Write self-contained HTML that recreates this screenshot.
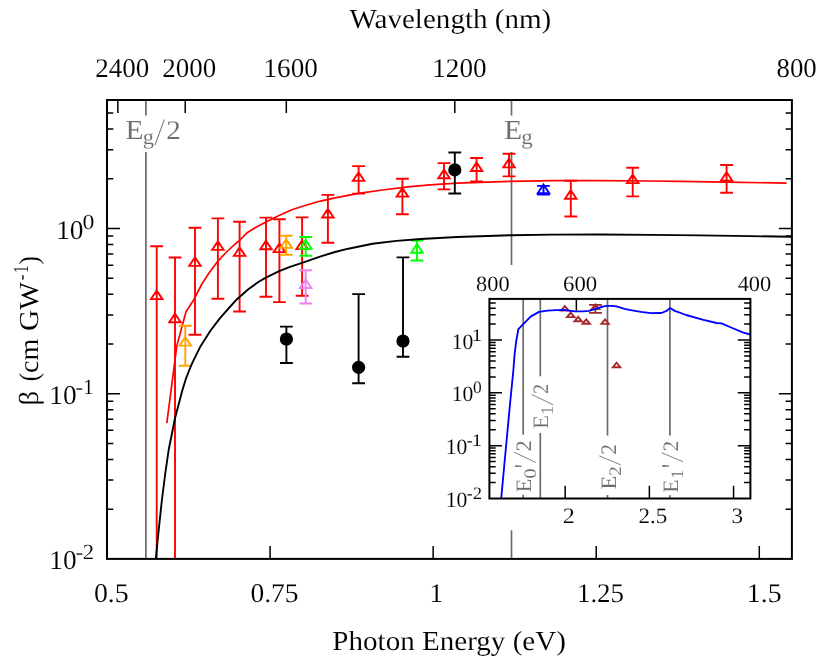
<!DOCTYPE html>
<html><head><meta charset="utf-8"><title>chart</title>
<style>html,body{margin:0;padding:0;background:#fff}svg{display:block}text{font-family:"Liberation Serif",serif;stroke:#fff;stroke-width:0.1px;text-rendering:geometricPrecision}.tx{opacity:0.999}</style>
</head><body>
<svg width="830" height="662" viewBox="0 0 830 662">
<rect width="830" height="662" fill="#fff"/>
<g stroke="#6b6b6b" stroke-width="1.7" fill="none">
<path d="M145.9 100.0V115.4M145.9 152V558.9"/>
<path d="M511.5 100.0V115.4M511.5 152V265M511.5 530.2V558.9"/>
</g>
<path d="M166.8 423.1L176.8 345.9L186.0 311.7L194.1 299.2L201.6 284.5L209.0 273.0L217.6 261.5L226.0 252.5L235.0 244.2L240.0 240.0L247.1 232.7L256.0 227.2L266.4 221.7L279.0 215.5L291.8 209.8L305.0 205.5L319.5 201.3L335.0 197.9L358.6 193.4L382.5 190.0L410.0 186.6L430.0 184.9L457.0 183.1L480.0 182.3L511.4 181.3L552.5 180.7L600.8 180.6L649.0 181.0L680.0 181.4L726.0 182.1L786.5 183.1" stroke="#ff0000" stroke-width="1.7" fill="none" stroke-linejoin="round"/>
<path d="M156.70 246.30V558.90M150.30 246.30H163.10M156.70 290.45L150.95 299.10L162.45 299.10ZM175.00 257.50V558.90M168.60 257.50H181.40M175.00 313.65L169.25 322.30L180.75 322.30ZM195.00 227.80V334.80M188.60 227.80H201.40M188.60 334.80H201.40M195.00 257.25L189.25 265.90L200.75 265.90ZM217.90 218.40V298.80M211.50 218.40H224.30M211.50 298.80H224.30M217.90 241.25L212.15 249.90L223.65 249.90ZM239.60 221.70V311.50M233.20 221.70H246.00M233.20 311.50H246.00M239.60 247.25L233.85 255.90L245.35 255.90ZM266.00 217.60V296.70M259.60 217.60H272.40M259.60 296.70H272.40M266.00 240.65L260.25 249.30L271.75 249.30ZM279.40 219.30V302.10M273.00 219.30H285.80M273.00 302.10H285.80M279.40 243.45L273.65 252.10L285.15 252.10ZM302.10 217.40V295.80M295.70 217.40H308.50M295.70 295.80H308.50M302.10 240.45L296.35 249.10L307.85 249.10ZM327.90 194.90V242.80M321.50 194.90H334.30M321.50 242.80H334.30M327.90 208.85L322.15 217.50L333.65 217.50ZM358.60 166.10V193.60M352.20 166.10H365.00M352.20 193.60H365.00M358.60 172.25L352.85 180.90L364.35 180.90ZM402.40 178.80V214.20M396.00 178.80H408.80M396.00 214.20H408.80M402.40 187.95L396.65 196.60L408.15 196.60ZM444.00 163.10V189.40M437.60 163.10H450.40M437.60 189.40H450.40M444.00 169.65L438.25 178.30L449.75 178.30ZM476.60 158.00V181.40M470.20 158.00H483.00M470.20 181.40H483.00M476.60 162.35L470.85 171.00L482.35 171.00ZM509.00 153.70V176.40M502.60 153.70H515.40M502.60 176.40H515.40M509.00 158.75L503.25 167.40L514.75 167.40ZM570.80 180.70V216.50M564.40 180.70H577.20M564.40 216.50H577.20M570.80 190.15L565.05 198.80L576.55 198.80ZM632.70 167.70V196.40M626.30 167.70H639.10M626.30 196.40H639.10M632.70 174.45L626.95 183.10L638.45 183.10ZM726.60 165.00V192.80M720.20 165.00H733.00M720.20 192.80H733.00M726.60 172.05L720.85 180.70L732.35 180.70Z" stroke="#ff0000" stroke-width="1.9" fill="none"/>
<path d="M185.30 325.70V365.80M178.90 325.70H191.70M178.90 365.80H191.70M185.30 336.95L179.55 345.60L191.05 345.60ZM286.20 235.80V254.80M279.80 235.80H292.60M279.80 254.80H292.60M286.20 239.25L280.45 247.90L291.95 247.90Z" stroke="#ffa500" stroke-width="1.9" fill="none"/>
<path d="M305.70 237.00V255.70M299.30 237.00H312.10M299.30 255.70H312.10M305.70 240.05L299.95 248.70L311.45 248.70ZM417.00 240.60V260.50M410.60 240.60H423.40M410.60 260.50H423.40M417.00 244.05L411.25 252.70L422.75 252.70Z" stroke="#00ff00" stroke-width="1.9" fill="none"/>
<path d="M305.70 270.20V303.50M299.30 270.20H312.10M299.30 303.50H312.10M305.70 279.35L299.95 288.00L311.45 288.00Z" stroke="#ee82ee" stroke-width="1.9" fill="none"/>
<path d="M543.50 185.90V194.60M537.10 185.90H549.90M537.10 194.60H549.90M543.50 184.55L537.75 193.20L549.25 193.20Z" stroke="#0000ff" stroke-width="1.9" fill="none"/>
<path d="M155.8 559.0L158.8 529.0L161.9 500.0L165.2 474.0L168.7 449.7L175.0 418.3L182.3 390.5L185.6 379.7L189.5 369.5L192.3 362.8L200.7 345.9L210.4 330.8L220.0 318.1L228.5 308.5L237.0 299.2L248.0 289.5L258.7 281.8L265.9 277.6L279.2 271.2L290.0 266.8L302.1 262.8L320.0 256.6L335.0 252.0L348.3 248.7L372.5 243.7L396.6 240.9L420.8 239.0L457.0 237.0L480.0 236.2L511.4 235.2L552.0 234.6L600.0 234.5L650.0 234.9L700.0 235.4L750.0 236.1L791.9 236.8" stroke="#000" stroke-width="1.9" fill="none" stroke-linejoin="round"/>
<path d="M286.40 326.60V363.00M280.00 326.60H292.80M280.00 363.00H292.80M358.60 294.10V383.20M352.20 294.10H365.00M352.20 383.20H365.00M403.00 257.40V356.70M396.60 257.40H409.40M396.60 356.70H409.40M454.80 152.50V193.50M448.40 152.50H461.20M448.40 193.50H461.20" stroke="#000" stroke-width="1.9" fill="none"/><circle cx="286.4" cy="339.0" r="6.6"/><circle cx="358.6" cy="367.3" r="6.6"/><circle cx="403.0" cy="341.0" r="6.6"/><circle cx="454.8" cy="169.9" r="6.6"/>
<path d="M270.07 558.9v-13M433.14 558.9v-13M596.21 558.9v-13M759.29 558.9v-13M117.83 100.0v12.9M185.22 100.0v12.9M286.31 100.0v12.9M454.80 100.0v12.9M107.0 509.18h6.3M791.9 509.18h-6.3M107.0 480.09h6.3M791.9 480.09h-6.3M107.0 459.45h6.3M791.9 459.45h-6.3M107.0 443.44h6.3M791.9 443.44h-6.3M107.0 430.36h6.3M791.9 430.36h-6.3M107.0 419.31h6.3M791.9 419.31h-6.3M107.0 409.73h6.3M791.9 409.73h-6.3M107.0 401.28h6.3M791.9 401.28h-6.3M107.0 393.72h13M791.9 393.72h-13M107.0 343.99h6.3M791.9 343.99h-6.3M107.0 314.91h6.3M791.9 314.91h-6.3M107.0 294.27h6.3M791.9 294.27h-6.3M107.0 278.26h6.3M791.9 278.26h-6.3M107.0 265.18h6.3M791.9 265.18h-6.3M107.0 254.12h6.3M791.9 254.12h-6.3M107.0 244.54h6.3M791.9 244.54h-6.3M107.0 236.09h6.3M791.9 236.09h-6.3M107.0 228.54h13M791.9 228.54h-13M107.0 178.81h6.3M791.9 178.81h-6.3M107.0 149.72h6.3M791.9 149.72h-6.3M107.0 129.09h6.3M791.9 129.09h-6.3M107.0 113.08h6.3M791.9 113.08h-6.3" stroke="#000" stroke-width="1.5" fill="none"/>
<rect x="107.0" y="100.0" width="684.9" height="458.9" stroke="#000" stroke-width="2.0" fill="none"/>
<g stroke="#6b6b6b" stroke-width="1.7" fill="none">
<path d="M523.2 298.9V434.8M523.2 494.8V498.5"/>
<path d="M540.3 298.9V376.3M540.3 432.9V498.5"/>
<path d="M607.5 298.9V435.6M607.5 495V498.5"/>
<path d="M669.9 298.9V435.6M669.9 495.2V498.5"/>
</g>
<path d="M564.80 306.10L561.10 310.60L568.50 310.60ZM570.70 312.60L567.00 317.10L574.40 317.10ZM578.10 316.80L574.40 321.30L581.80 321.30ZM586.20 319.30L582.50 323.80L589.90 323.80ZM605.10 319.40L601.40 323.90L608.80 323.90ZM616.60 362.70L612.90 367.20L620.30 367.20ZM595.40 304.50L591.70 309.00L599.10 309.00ZM595.4 304.9V312.9M589.0 304.9H601.9M589.0 312.9H601.9" stroke="#a52a2a" stroke-width="1.9" fill="none"/>
<path d="M501.2 498.5L505.7 450.0L510.4 400.0L513.4 370.0L514.6 354.1L516.3 340.6L518.4 329.1L530.6 316.6L539.0 311.9L547.5 310.7L556.0 310.2L564.3 309.9L569.5 310.6L574.4 311.4L582.9 311.4L589.0 310.9L594.7 309.2L600.0 307.5L603.5 306.4L607.6 305.8L612.0 305.9L616.4 306.4L620.5 307.6L624.6 308.9L632.0 310.3L641.0 311.9L651.2 313.2L661.5 313.0L666.6 310.9L670.1 308.0L674.8 310.9L686.1 315.0L702.5 319.7L716.5 323.0L721.5 323.4L731.1 327.5L743.4 332.6L750.2 334.5" stroke="#0000ff" stroke-width="1.85" fill="none" stroke-linejoin="round"/>
<path d="M565.17 498.5v-12.7M649.37 498.5v-12.7M733.56 498.5v-12.7M576.36 298.9v11.5M489.4 482.60h6.3M750.4 482.60h-6.3M489.4 473.29h6.3M750.4 473.29h-6.3M489.4 466.69h6.3M750.4 466.69h-6.3M489.4 461.57h6.3M750.4 461.57h-6.3M489.4 457.39h6.3M750.4 457.39h-6.3M489.4 453.85h6.3M750.4 453.85h-6.3M489.4 450.79h6.3M750.4 450.79h-6.3M489.4 448.09h6.3M750.4 448.09h-6.3M489.4 445.67h12.6M750.4 445.67h-12.6M489.4 429.77h6.3M750.4 429.77h-6.3M489.4 420.46h6.3M750.4 420.46h-6.3M489.4 413.86h6.3M750.4 413.86h-6.3M489.4 408.74h6.3M750.4 408.74h-6.3M489.4 404.56h6.3M750.4 404.56h-6.3M489.4 401.02h6.3M750.4 401.02h-6.3M489.4 397.96h6.3M750.4 397.96h-6.3M489.4 395.26h6.3M750.4 395.26h-6.3M489.4 392.84h12.6M750.4 392.84h-12.6M489.4 376.94h6.3M750.4 376.94h-6.3M489.4 367.63h6.3M750.4 367.63h-6.3M489.4 361.03h6.3M750.4 361.03h-6.3M489.4 355.91h6.3M750.4 355.91h-6.3M489.4 351.73h6.3M750.4 351.73h-6.3M489.4 348.19h6.3M750.4 348.19h-6.3M489.4 345.13h6.3M750.4 345.13h-6.3M489.4 342.43h6.3M750.4 342.43h-6.3M489.4 340.01h12.6M750.4 340.01h-12.6M489.4 324.11h6.3M750.4 324.11h-6.3M489.4 314.80h6.3M750.4 314.80h-6.3M489.4 308.20h6.3M750.4 308.20h-6.3M489.4 303.08h6.3M750.4 303.08h-6.3" stroke="#000" stroke-width="1.5" fill="none"/>
<rect x="489.4" y="298.9" width="261.0" height="199.60000000000002" stroke="#000" stroke-width="2.0" fill="none"/>
<g class="tx">
<text transform="translate(349.42,27.70) scale(1.0570,1)" font-size="27.5" fill="#000">Wavelength (nm)</text>
<text transform="translate(332.32,649.50) scale(1.0570,1)" font-size="27.5" fill="#000">Photon Energy (eV)</text>
<text transform="translate(95.37,77.30) scale(1.0000,1)" font-size="27.0" fill="#000">2400</text>
<text transform="translate(162.37,77.30) scale(0.9981,1)" font-size="27.0" fill="#000">2000</text>
<text transform="translate(263.49,77.30) scale(1.0053,1)" font-size="27.0" fill="#000">1600</text>
<text transform="translate(432.29,77.30) scale(1.0053,1)" font-size="27.0" fill="#000">1200</text>
<text transform="translate(776.54,77.30) scale(0.9930,1)" font-size="27.0" fill="#000">800</text>
<text transform="translate(93.90,601.50) scale(1.0317,1)" font-size="27.0" fill="#000">0.5</text>
<text transform="translate(250.51,601.50) scale(1.0178,1)" font-size="27.0" fill="#000">0.75</text>
<text transform="translate(429.58,601.50) scale(1.0071,1)" font-size="27.0" fill="#000">1</text>
<text transform="translate(576.90,601.50) scale(0.9985,1)" font-size="27.0" fill="#000">1.25</text>
<text transform="translate(746.83,601.50) scale(1.0276,1)" font-size="27.0" fill="#000">1.5</text>
<text transform="translate(56.16,238.60) scale(1.0157,1)" font-size="27.0" fill="#000">10</text>
<text transform="translate(82.48,228.70) scale(1.1000,1)" font-size="21.6" fill="#000">0</text>
<text transform="translate(49.27,403.60) scale(1.0114,1)" font-size="27.0" fill="#000">10</text>
<text transform="translate(75.52,393.70) scale(1.0545,1)" font-size="21.6" fill="#000">-</text>
<text transform="translate(83.18,393.70) scale(0.9600,1)" font-size="21.6" fill="#000">1</text>
<text transform="translate(49.27,568.80) scale(1.0114,1)" font-size="27.0" fill="#000">10</text>
<text transform="translate(75.52,558.80) scale(1.0545,1)" font-size="21.6" fill="#000">-</text>
<text transform="translate(82.75,558.80) scale(1.0471,1)" font-size="21.6" fill="#000">2</text>
<text transform="translate(38.4,403.8) rotate(-90) translate(-1.95,0.00) scale(1.0636,1)" font-size="27.5" fill="#000">β</text>
<text transform="translate(38.4,403.8) rotate(-90) translate(22.59,0.00) scale(0.9073,1)" font-size="27.5" fill="#000">(</text>
<text transform="translate(38.4,403.8) rotate(-90) translate(30.92,0.00) scale(1.0156,1)" font-size="27.5" fill="#000">cm</text>
<text transform="translate(38.4,403.8) rotate(-90) translate(72.75,0.00) scale(1.0674,1)" font-size="27.5" fill="#000">GW</text>
<text transform="translate(38.4,403.8) rotate(-90) translate(123.22,-10.70) scale(0.8182,1)" font-size="21.6" fill="#000">-</text>
<text transform="translate(38.4,403.8) rotate(-90) translate(130.45,-10.70) scale(0.7733,1)" font-size="21.6" fill="#000">1</text>
<text transform="translate(38.4,403.8) rotate(-90) translate(139.28,0.00) scale(0.9220,1)" font-size="27.5" fill="#000">)</text>
<g fill="#6c6c6c">
<text transform="translate(125.40,139.20) scale(1.0759,1)" font-size="27.5" fill="#6c6c6c">E</text>
<text transform="translate(142.66,143.60) scale(1.0393,1)" font-size="21.6" fill="#6c6c6c">g</text>
<path d="M155.1 145.0L164.3 119.5" stroke="#6c6c6c" stroke-width="1.0" fill="none"/>
<text transform="translate(166.36,139.20) scale(1.0781,1)" font-size="27.0" fill="#6c6c6c">2</text>
<text transform="translate(504.00,139.20) scale(1.0828,1)" font-size="27.5" fill="#6c6c6c">E</text>
<text transform="translate(521.34,143.60) scale(1.0607,1)" font-size="21.6" fill="#6c6c6c">g</text>
</g>
<text transform="translate(476.05,291.20) scale(1.0149,1)" font-size="22.0" fill="#000">800</text>
<text transform="translate(563.07,291.20) scale(1.0332,1)" font-size="22.0" fill="#000">600</text>
<text transform="translate(737.69,291.20) scale(1.0168,1)" font-size="22.0" fill="#000">400</text>
<text transform="translate(562.80,523.20) scale(1.0962,1)" font-size="22.0" fill="#000">2</text>
<text transform="translate(638.45,523.20) scale(1.0471,1)" font-size="22.0" fill="#000">2.5</text>
<text transform="translate(731.57,523.20) scale(1.0528,1)" font-size="22.0" fill="#000">3</text>
<text transform="translate(451.64,348.50) scale(0.9809,1)" font-size="22.0" fill="#000">10</text>
<text transform="translate(471.57,340.50) scale(1.2167,1)" font-size="17.5" fill="#000">1</text>
<text transform="translate(451.64,401.30) scale(0.9809,1)" font-size="22.0" fill="#000">10</text>
<text transform="translate(472.94,393.30) scale(0.9955,1)" font-size="17.5" fill="#000">0</text>
<text transform="translate(445.64,454.00) scale(0.9809,1)" font-size="22.0" fill="#000">10</text>
<text transform="translate(466.63,446.00) scale(1.0000,1)" font-size="17.5" fill="#000">-</text>
<text transform="translate(471.57,446.00) scale(1.2167,1)" font-size="17.5" fill="#000">1</text>
<text transform="translate(445.64,506.80) scale(0.9809,1)" font-size="22.0" fill="#000">10</text>
<text transform="translate(466.63,498.80) scale(1.0000,1)" font-size="17.5" fill="#000">-</text>
<text transform="translate(472.71,498.80) scale(1.0683,1)" font-size="17.5" fill="#000">2</text>
<text transform="translate(530.5,491.5) rotate(-90) translate(-0.67,0.00) scale(1.0029,1)" font-size="22.0" fill="#6c6c6c">E</text>
<text transform="translate(530.5,491.5) rotate(-90) translate(13.04,5.20) scale(1.1455,1)" font-size="17.5" fill="#6c6c6c">0</text>
<path transform="translate(530.5,491.5) rotate(-90)" d="M24.400000000000002 -15.3L26.2 -15.3L25.75 -8.6L24.85 -8.6Z" fill="#6c6c6c"/>
<path transform="translate(530.5,491.5) rotate(-90)" d="M29.0 5.3L39.2 -16.2" stroke="#6c6c6c" stroke-width="0.85" fill="none"/>
<text transform="translate(530.5,491.5) rotate(-90) translate(39.98,0.00) scale(1.0154,1)" font-size="22.0" fill="#6c6c6c">2</text>
<text transform="translate(547.8,428.0) rotate(-90) translate(-0.67,0.00) scale(1.0114,1)" font-size="22.0" fill="#6c6c6c">E</text>
<text transform="translate(547.8,428.0) rotate(-90) translate(12.71,5.20) scale(1.1333,1)" font-size="17.5" fill="#6c6c6c">1</text>
<path transform="translate(547.8,428.0) rotate(-90)" d="M23.2 5.3L33.6 -16.2" stroke="#6c6c6c" stroke-width="0.85" fill="none"/>
<text transform="translate(547.8,428.0) rotate(-90) translate(33.88,0.00) scale(0.9231,1)" font-size="22.0" fill="#6c6c6c">2</text>
<text transform="translate(615.5,488.7) rotate(-90) translate(-0.69,0.00) scale(1.0286,1)" font-size="22.0" fill="#6c6c6c">E</text>
<text transform="translate(615.5,488.7) rotate(-90) translate(12.90,5.20) scale(1.0829,1)" font-size="17.5" fill="#6c6c6c">2</text>
<path transform="translate(615.5,488.7) rotate(-90)" d="M23.799999999999997 5.3L32.800000000000004 -16.2" stroke="#6c6c6c" stroke-width="0.85" fill="none"/>
<text transform="translate(615.5,488.7) rotate(-90) translate(33.92,0.00) scale(0.9808,1)" font-size="22.0" fill="#6c6c6c">2</text>
<text transform="translate(677.7,492.2) rotate(-90) translate(-0.66,0.00) scale(0.9943,1)" font-size="22.0" fill="#6c6c6c">E</text>
<text transform="translate(677.7,492.2) rotate(-90) translate(13.32,5.20) scale(1.0667,1)" font-size="17.5" fill="#6c6c6c">1</text>
<path transform="translate(677.7,492.2) rotate(-90)" d="M25.3 -15.3L27.099999999999998 -15.3L26.65 -8.6L25.75 -8.6Z" fill="#6c6c6c"/>
<path transform="translate(677.7,492.2) rotate(-90)" d="M30.5 5.3L39.5 -16.2" stroke="#6c6c6c" stroke-width="0.85" fill="none"/>
<text transform="translate(677.7,492.2) rotate(-90) translate(40.63,0.00) scale(0.9692,1)" font-size="22.0" fill="#6c6c6c">2</text>
</g>
</svg>
</body></html>
